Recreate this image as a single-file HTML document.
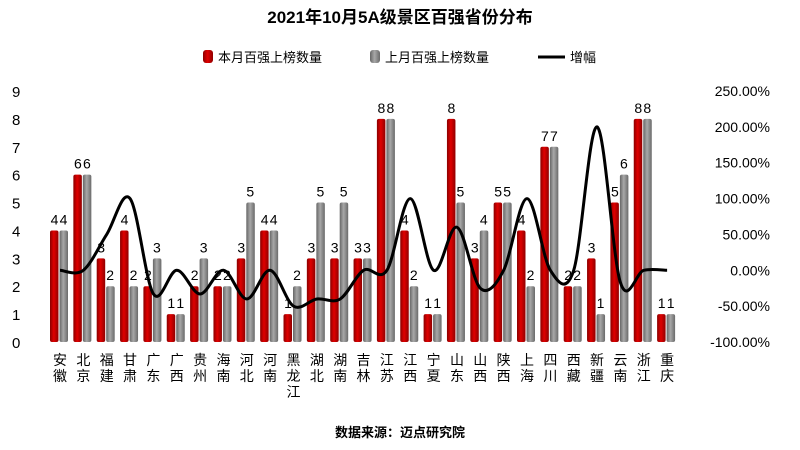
<!DOCTYPE html>
<html><head><meta charset="utf-8"><style>
body{margin:0;background:#fff;width:800px;height:445px;overflow:hidden;font-family:"Liberation Sans","Noto Sans CJK SC",sans-serif}
svg text{font-family:"Liberation Sans","Noto Sans CJK SC",sans-serif}
</style></head><body>
<svg id="chart" width="800" height="445">
<defs>
<linearGradient id="gr" x1="0" x2="1" y1="0" y2="0"><stop offset="0" stop-color="#8a0000"/><stop offset="0.45" stop-color="#e00000"/><stop offset="1" stop-color="#900000"/></linearGradient>
<linearGradient id="gg" x1="0" x2="1" y1="0" y2="0"><stop offset="0" stop-color="#666"/><stop offset="0.45" stop-color="#a8a8a8"/><stop offset="1" stop-color="#6a6a6a"/></linearGradient>
</defs>
<text x="400" y="23" text-anchor="middle" font-size="17" font-weight="bold" fill="#000">2021年10月5A级景区百强省份分布</text>
<g>
<rect x="203" y="50" width="10" height="13" rx="3" fill="url(#gr)"/>
<text x="218" y="62" font-size="13">本月百强上榜数量</text>
<rect x="370" y="50" width="10" height="13" rx="3" fill="url(#gg)"/>
<text x="385" y="62" font-size="13">上月百强上榜数量</text>
<line x1="538" y1="57" x2="565" y2="57" stroke="#000" stroke-width="3"/>
<text x="570" y="62" font-size="13">增幅</text>
</g>
<g id="axes"></g><g id="bars"></g><g id="line"></g>
<text x="400" y="437" text-anchor="middle" font-size="13" font-weight="bold">数据来源：迈点研究院</text>
</svg>
<script>
const categories=["安徽","北京","福建","甘肃","广东","广西","贵州","海南","河北","河南","黑龙江","湖北","湖南","吉林","江苏","江西","宁夏","山东","山西","陕西","上海","四川","西藏","新疆","云南","浙江","重庆"];
const thisMonth=[4,6,3,4,2,1,2,2,3,4,1,3,3,3,8,4,1,8,3,5,4,7,2,3,5,8,1];
const lastMonth=[4,6,2,2,3,1,3,2,5,4,2,5,5,3,8,2,1,5,4,5,2,7,2,1,6,8,1];
const growth=[0,0,50,100,-33,0,-33,0,-40,0,-50,-40,-40,0,0,100,0,60,-25,0,100,0,0,200,-17,0,0];
const leftTicks=[0,1,2,3,4,5,6,7,8,9];
const rightTicks=[-100,-50,0,50,100,150,200,250];
const NS="http://www.w3.org/2000/svg";
const y0=342,y1=91;
const yL=v=>y0-(v/9)*(y0-y1);
const yR=v=>y0-((v+100)/350)*(y0-y1);
const xC=i=>60+i*23.35;
function mk(tag,attrs,parent,text){const e=document.createElementNS(NS,tag);for(const k in attrs)e.setAttribute(k,attrs[k]);if(text!==undefined)e.textContent=text;parent.appendChild(e);return e;}
const axes=document.getElementById('axes'),bars=document.getElementById('bars'),line=document.getElementById('line');
leftTicks.forEach(v=>{const t=mk('text',{x:12,y:yL(v)+6,'font-size':15,'text-anchor':'start'},axes,String(v));

});
rightTicks.forEach(v=>{const t=mk('text',{x:770,y:yR(v)+5,'font-size':14,'text-anchor':'end'},axes,v.toFixed(2)+'%');

});
categories.forEach((c,i)=>{
 const chars=[...c];
 chars.forEach((ch,j)=>{const t=mk('text',{x:xC(i),y:365+j*16,'font-size':14,'text-anchor':'middle'},axes,ch);
 
 });
 const r=mk('rect',{x:xC(i)-10,y:yL(thisMonth[i]),width:8.5,height:y0-yL(thisMonth[i]),fill:'url(#gr)',rx:2},bars);
 
 
 const g=mk('rect',{x:xC(i)-0.5,y:yL(lastMonth[i]),width:8.5,height:y0-yL(lastMonth[i]),fill:'url(#gg)',rx:2},bars);
 
 
 const l1=mk('text',{x:xC(i)-5.5,y:yL(thisMonth[i])-6,'font-size':14,'text-anchor':'middle'},bars,String(thisMonth[i]));
 
 
 const l2=mk('text',{x:xC(i)+3.5,y:yL(lastMonth[i])-6,'font-size':14,'text-anchor':'middle'},bars,String(lastMonth[i]));
 
 
});
const pts=growth.map((v,i)=>[xC(i),yR(v)]);
let d='M'+pts[0][0]+','+pts[0][1];
for(let i=0;i<pts.length-1;i++){const p0=pts[i-1]||pts[i],p1=pts[i],p2=pts[i+1],p3=pts[i+2]||p2;
 d+=' C'+(p1[0]+(p2[0]-p0[0])/6)+','+(p1[1]+(p2[1]-p0[1])/6)+' '+(p2[0]-(p3[0]-p1[0])/6)+','+(p2[1]-(p3[1]-p1[1])/6)+' '+p2[0]+','+p2[1];}
const path=mk('path',{d:d,fill:'none',stroke:'#000','stroke-width':3},line);


</script>
</body></html>
